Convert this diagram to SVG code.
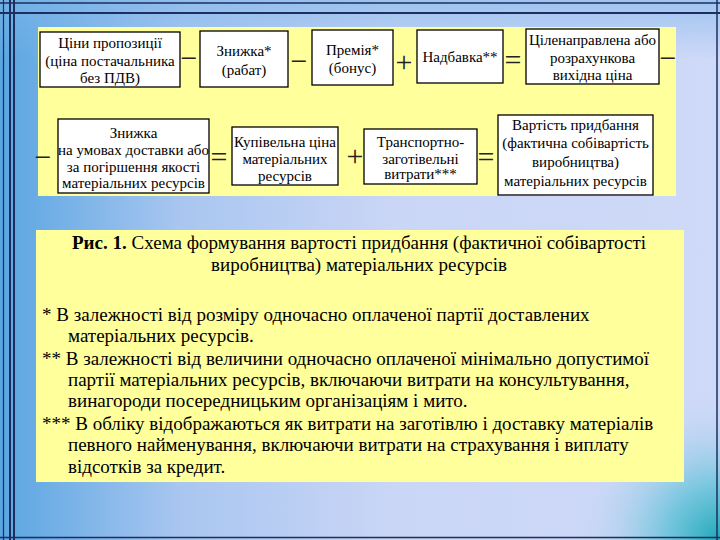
<svg xmlns="http://www.w3.org/2000/svg" width="720" height="540" viewBox="0 0 720 540">
<defs>
<linearGradient id="bg" x1="0" y1="0" x2="1" y2="0">
<stop offset="0" stop-color="#5aa6e2"/>
<stop offset="0.25" stop-color="#a9c6f0"/>
<stop offset="0.55" stop-color="#cad6f6"/>
<stop offset="1" stop-color="#cfd9f8"/>
</linearGradient>
<radialGradient id="corner" cx="720" cy="540" r="150" gradientUnits="userSpaceOnUse">
<stop offset="0" stop-color="#1fa8b8"/>
<stop offset="0.35" stop-color="#5cc0d6" stop-opacity="0.8"/>
<stop offset="1" stop-color="#cfd9f8" stop-opacity="0"/>
</radialGradient>
<linearGradient id="topband" x1="0" y1="0" x2="0" y2="1">
<stop offset="0" stop-color="#7fb6ea" stop-opacity="0.6"/>
<stop offset="1" stop-color="#7fb6ea" stop-opacity="0"/>
</linearGradient>
<style>
.box{fill:#ffffff;stroke:#000000;stroke-width:1.3}
.t{font-family:'Liberation Serif','Times New Roman',serif;font-size:15px;fill:#000;text-anchor:middle}
.op{font-family:'Liberation Serif','Times New Roman',serif;font-size:30px;fill:#222;text-anchor:middle}
.cap{font-family:'Liberation Serif','Times New Roman',serif;font-size:19px;fill:#000}
.frame{stroke:#1c2f5e;fill:none}
</style>
</defs>
<rect x="0" y="0" width="720" height="540" fill="url(#bg)"/>
<rect x="0" y="0" width="720" height="60" fill="url(#topband)"/>
<rect x="0" y="0" width="720" height="540" fill="url(#corner)"/>
<g id="frame">
<line class="frame" x1="0" y1="3" x2="720" y2="3" stroke-width="1.5"/>
<line class="frame" x1="0" y1="13" x2="720" y2="13" stroke-width="2"/>
<line class="frame" x1="3.5" y1="0" x2="3.5" y2="540" stroke-width="1.2"/>
<line class="frame" x1="10" y1="0" x2="10" y2="540" stroke-width="2"/>
<line class="frame" x1="14" y1="0" x2="14" y2="540" stroke-width="2"/>
<line class="frame" x1="717" y1="0" x2="717" y2="540" stroke-width="1.5"/>
<line class="frame" x1="0" y1="537.5" x2="720" y2="537.5" stroke-width="1.5"/>
</g>
<rect x="38" y="27" width="638" height="169" fill="#ffff9c"/>
<rect x="36" y="230" width="648" height="252" fill="#ffff9c"/>
<g id="n1"><rect class="box" x="40" y="32" width="140" height="55"/>
<text class="t" x="110" y="48">Ціни пропозиції</text>
<text class="t" x="110" y="65.5">(ціна постачальника</text>
<text class="t" x="110" y="83">без ПДВ)</text></g>
<g id="n2"><rect class="box" x="200" y="31" width="88" height="56"/>
<text class="t" x="244" y="56">Знижка*</text>
<text class="t" x="244" y="75">(рабат)</text></g>
<g id="n3"><rect class="box" x="312" y="30" width="81" height="55"/>
<text class="t" x="352.5" y="55">Премія*</text>
<text class="t" x="352.5" y="73">(бонус)</text></g>
<g id="n4"><rect class="box" x="417" y="30" width="86" height="53"/>
<text class="t" x="460" y="62">Надбавка**</text></g>
<g id="n5"><rect class="box" x="526" y="29" width="133" height="55"/>
<text class="t" x="592.5" y="45">Ціленаправлена або</text>
<text class="t" x="592.5" y="63">розрахункова</text>
<text class="t" x="592.5" y="80">вихідна ціна</text></g>
<g id="n6"><rect class="box" x="58" y="119" width="151" height="74"/>
<text class="t" x="133.5" y="138">Знижка</text>
<text class="t" x="133.5" y="155" font-size="14.6">на умовах доставки або</text>
<text class="t" x="133.5" y="172">за погіршення якості</text>
<text class="t" x="133.5" y="188">матеріальних ресурсів</text></g>
<g id="n7"><rect class="box" x="232" y="127" width="106" height="58"/>
<text class="t" x="285" y="147">Купівельна ціна</text>
<text class="t" x="285" y="164">матеріальних</text>
<text class="t" x="285" y="181">ресурсів</text></g>
<g id="n8"><rect class="box" x="364" y="129" width="113" height="55"/>
<text class="t" x="420.5" y="147">Транспортно-</text>
<text class="t" x="420.5" y="164">заготівельні</text>
<text class="t" x="420.5" y="179">витрати***</text></g>
<g id="n9"><rect class="box" x="498" y="115" width="155" height="80"/>
<text class="t" x="575.5" y="130">Вартість придбання</text>
<text class="t" x="575.5" y="148">(фактична собівартість</text>
<text class="t" x="575.5" y="167">виробництва)</text>
<text class="t" x="575.5" y="186">матеріальних ресурсів</text></g>
<g id="connectors">
<text class="op" x="189" y="68">−</text>
<text class="op" x="299" y="71">−</text>
<text class="op" x="404" y="72">+</text>
<text class="op" x="513" y="70">=</text>
<text class="op" x="668" y="68">−</text>
<text class="op" x="43" y="167">−</text>
<text class="op" x="219" y="167">=</text>
<text class="op" x="355" y="166">+</text>
<text class="op" x="486" y="167">=</text>
</g>
<g id="caption">
<text class="cap" x="359" y="249" text-anchor="middle"><tspan font-weight="bold">Рис. 1.</tspan> Схема формування вартості придбання (фактичної собівартості</text>
<text class="cap" x="359" y="271" text-anchor="middle">виробництва) матеріальних ресурсів</text>
<text class="cap" x="42" y="321">* В залежності від розміру одночасно оплаченої партії доставлених</text>
<text class="cap" x="68" y="342">матеріальних ресурсів.</text>
<text class="cap" x="42" y="365">** В залежності від величини одночасно оплаченої мінімально допустимої</text>
<text class="cap" x="68" y="386">партії матеріальних ресурсів, включаючи витрати на консультування,</text>
<text class="cap" x="68" y="407">винагороди посередницьким організаціям і мито.</text>
<text class="cap" x="42" y="430">*** В обліку відображаються як витрати на заготівлю і доставку матеріалів</text>
<text class="cap" x="68" y="451">певного найменування, включаючи витрати на страхування і виплату</text>
<text class="cap" x="68" y="473">відсотків за кредит.</text>
</g>
</svg>
